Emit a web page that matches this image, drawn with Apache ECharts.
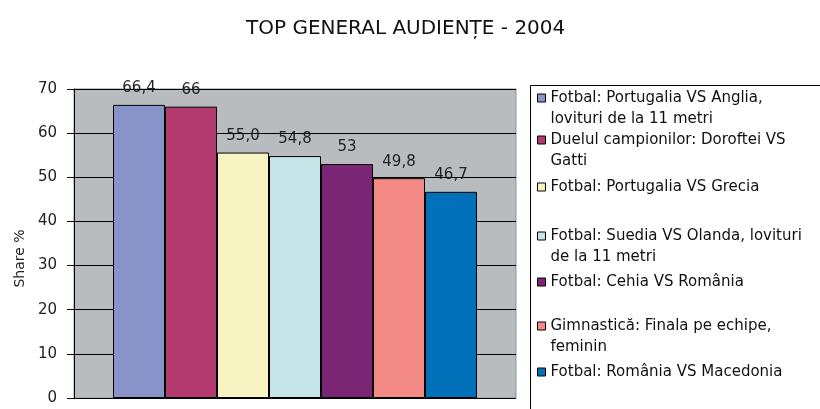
<!DOCTYPE html>
<html>
<head>
<meta charset="utf-8">
<script src="https://cdn.jsdelivr.net/npm/echarts@6/dist/echarts.min.js"></script>
<style>html,body{margin:0;padding:0;background:#fff}#c{width:820px;height:409px}</style>
</head>
<body>
<div id="c"></div>
<script>
const titleText = 'TOP GENERAL AUDIENȚE - 2004';
const yAxisName = 'Share %';
const categories = [
  'Fotbal: Portugalia VS Anglia, lovituri de la 11 metri',
  'Duelul campionilor: Doroftei VS Gatti',
  'Fotbal: Portugalia VS Grecia',
  'Fotbal: Suedia VS Olanda, lovituri de la 11 metri',
  'Fotbal: Cehia VS România',
  'Gimnastică: Finala pe echipe, feminin',
  'Fotbal: România VS Macedonia'
];
const legendLabels = [
  'Fotbal: Portugalia VS Anglia,\nlovituri de la 11 metri',
  'Duelul campionilor: Doroftei VS\nGatti',
  'Fotbal: Portugalia VS Grecia',
  'Fotbal: Suedia VS Olanda, lovituri\nde la 11 metri',
  'Fotbal: Cehia VS România',
  'Gimnastică: Finala pe echipe,\nfeminin',
  'Fotbal: România VS Macedonia'
];
const values = [66.4, 66, 55.6, 54.8, 53, 49.8, 46.7];
const valueLabels = ['66,4', '66', '55,0', '54,8', '53', '49,8', '46,7'];
const yTicks = [0, 10, 20, 30, 40, 50, 60, 70];

const colors = ['#8893C9', '#B33A6F', '#F8F3C3', '#C6E5E9', '#7B2675', '#F48A85', '#0070B8'];
const legendCenters = [98, 140, 187, 236, 282, 326, 372];
const LH = 21;
const FONT = 'DejaVu Sans';

const series = categories.map((name, i) => ({
  type: 'bar',
  name: name,
  data: [values[i]],
  barWidth: 52,
  barGap: '0%',
  itemStyle: { color: colors[i], borderColor: '#000', borderWidth: 1 },
  label: {
    show: true, position: 'top', distance: 9,
    formatter: () => valueLabels[i],
    fontFamily: FONT, fontSize: 15, color: '#222'
  },
  z: 3
}));

const legends = categories.map((name, i) => {
  const multi = legendLabels[i].indexOf('\n') >= 0;
  return {
    data: [name],
    left: 537,
    top: multi ? legendCenters[i] - 1.5 * LH : legendCenters[i] - 0.5 * LH,
    padding: 0,
    orient: 'vertical',
    icon: 'rect',
    itemWidth: 8,
    itemHeight: 8,
    itemStyle: { borderColor: '#000', borderWidth: 1 },
    formatter: () => (multi ? '\n' : '') + legendLabels[i],
    selectedMode: false,
    z: 10,
    textStyle: {
      fontFamily: FONT, fontSize: 15, color: '#111', lineHeight: LH
    }
  };
});

const chart = echarts.init(document.getElementById('c'), null, { renderer: 'canvas' });
chart.setOption({
  animation: false,
  title: {
    text: titleText, left: 246, top: 19, padding: 0,
    textStyle: { fontFamily: FONT, fontSize: 20, fontWeight: 'normal', color: '#111' }
  },
  graphic: [{
    type: 'rect', left: 530, top: 85, z: 0,
    shape: { width: 300, height: 340 },
    style: { fill: '#fff', stroke: '#000', lineWidth: 1 }
  }],
  legend: legends,
  grid: {
    left: 74, right: 304, top: 89, bottom: 11,
    show: true, backgroundColor: '#B8BCBF', borderColor: '#8E9194', borderWidth: 1
  },
  xAxis: {
    type: 'category', data: [''],
    axisLine: { show: false }, axisTick: { show: false }, axisLabel: { show: false }
  },
  yAxis: {
    type: 'value', min: 0, max: 70, interval: 10,
    name: yAxisName, nameLocation: 'middle', nameGap: 46, nameRotate: 90,
    nameTextStyle: { fontFamily: FONT, fontSize: 14, color: '#222', padding: [0, 30, 0, 0] },
    axisLine: { show: true, lineStyle: { color: '#000', width: 1 } },
    axisTick: { show: true, length: 7, lineStyle: { color: '#000' } },
    axisLabel: {
      margin: 17, fontFamily: FONT, fontSize: 15, color: '#222',
      formatter: v => (yTicks.indexOf(v) >= 0 ? String(v) : '')
    },
    splitLine: { show: true, lineStyle: { color: '#000', width: 1 } }
  },
  series: series
});
</script>
</body>
</html>
